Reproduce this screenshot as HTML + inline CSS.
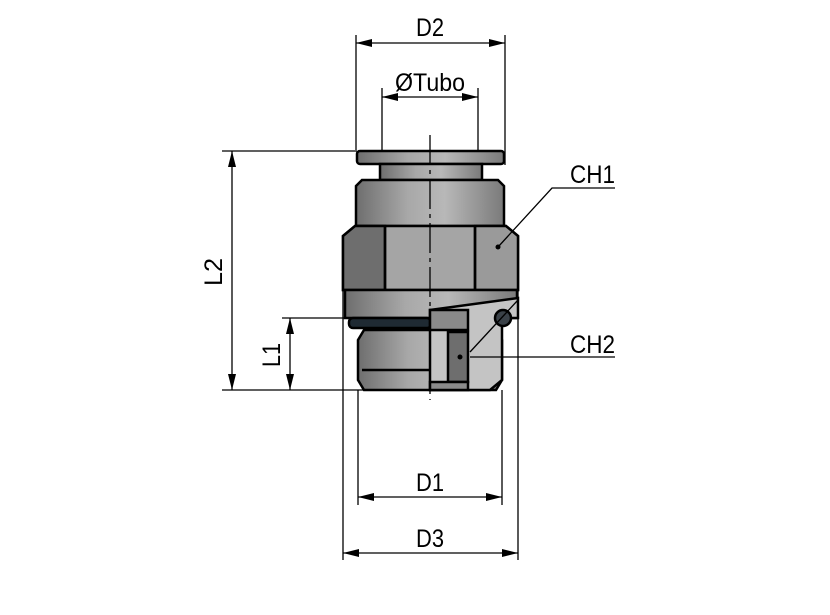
<!DOCTYPE html>
<html><head><meta charset="utf-8"><style>
html,body{margin:0;padding:0;background:#fff;}
svg{display:block;}
text{font-family:"Liberation Sans",sans-serif;font-size:25px;fill:#000;}
</style></head><body>
<svg width="830" height="615" viewBox="0 0 830 615" xmlns="http://www.w3.org/2000/svg">
<defs>
<linearGradient id="g" x1="0" x2="1" y1="0" y2="0">
<stop offset="0" stop-color="#6e6e6e"/><stop offset="0.35" stop-color="#a8a8a8"/><stop offset="0.6" stop-color="#b8b8b8"/><stop offset="1" stop-color="#7a7a7a"/>
</linearGradient>
<marker id="a" markerWidth="16" markerHeight="8" refX="16" refY="4" orient="auto" markerUnits="userSpaceOnUse"><path d="M0,0 L16,4 L0,8 Z" fill="#000"/></marker>
<marker id="b" markerWidth="16" markerHeight="8" refX="0" refY="4" orient="auto" markerUnits="userSpaceOnUse"><path d="M16,0 L0,4 L16,8 Z" fill="#000"/></marker>
</defs>
<g stroke="#000" stroke-width="2.5">
<rect x="357" y="151" width="147" height="13" rx="3" fill="url(#g)"/>
<rect x="380" y="164" width="102" height="16" fill="url(#g)"/>
<path d="M356,186 L362,180 L498,180 L504,186 L504,226 L356,226 Z" fill="url(#g)"/>
<path d="M343,236 L355,226 L506,226 L518,236 L518,290 L343,290 Z" fill="#a5a5a5"/>
<path d="M343,236 L355,226 L385,226 L385,290 L343,290 Z" fill="#6e6e6e"/>
<path d="M475,226 L506,226 L518,236 L518,290 L475,290 Z" fill="#9a9a9a"/>
<line x1="385" y1="226" x2="385" y2="290"/><line x1="475" y1="226" x2="475" y2="290"/>
<rect x="345" y="290" width="172" height="28" fill="url(#g)"/>
<rect x="349" y="318" width="82" height="10" rx="4" fill="#1f2a33"/>
<path d="M358,340 L364,330 L496,330 L502,340 L502,380 L496,390 L364,390 L358,380 Z" fill="url(#g)"/>
<line x1="362" y1="370" x2="430" y2="370"/>
<path d="M430,310 L518,298 L518,318 L502,318 L502,380 L490,390 L430,390 Z" fill="#c4c4c4"/>
<rect x="430" y="310" width="38" height="20" fill="#8a8a8a"/>
<rect x="448" y="332" width="20" height="50" fill="#6e6e6e"/>
<rect x="430" y="382" width="38" height="8" fill="#8a8a8a"/>
<circle cx="503" cy="318" r="8" fill="#3a4148"/>
</g>
<g stroke="#000" stroke-width="1.3" fill="none">
<line x1="430" y1="135" x2="430" y2="400" stroke-dasharray="30,5,4,5"/>
<line x1="356" y1="35" x2="356" y2="150"/><line x1="505" y1="35" x2="505" y2="165"/>
<line x1="382" y1="88" x2="382" y2="150"/><line x1="478" y1="88" x2="478" y2="150"/>
<line x1="222" y1="151" x2="357" y2="151"/><line x1="222" y1="390" x2="365" y2="390"/>
<line x1="282" y1="318" x2="349" y2="318"/>
<line x1="358" y1="390" x2="358" y2="505"/><line x1="502" y1="390" x2="502" y2="505"/>
<line x1="343" y1="290" x2="343" y2="560"/><line x1="518" y1="290" x2="518" y2="560"/>
<line x1="356" y1="43" x2="505" y2="43" marker-start="url(#b)" marker-end="url(#a)"/>
<line x1="382" y1="97" x2="478" y2="97" marker-start="url(#b)" marker-end="url(#a)"/>
<line x1="232" y1="151" x2="232" y2="390" marker-start="url(#b)" marker-end="url(#a)"/>
<line x1="290" y1="318" x2="290" y2="390" marker-start="url(#b)" marker-end="url(#a)"/>
<line x1="358" y1="497" x2="502" y2="497" marker-start="url(#b)" marker-end="url(#a)"/>
<line x1="343" y1="553" x2="518" y2="553" marker-start="url(#b)" marker-end="url(#a)"/>
<polyline points="498,247 552,188 615,188"/>
<polyline points="470,357 615,357"/>
<line x1="470" y1="352" x2="518" y2="300"/>
</g>
<circle cx="498" cy="247" r="2.5" fill="#000"/>
<circle cx="460" cy="357" r="2.5" fill="#000"/>
<text x="416" y="36" textLength="28" lengthAdjust="spacingAndGlyphs">D2</text>
<text x="395" y="91" textLength="70" lengthAdjust="spacingAndGlyphs">ØTubo</text>
<text x="416" y="491" textLength="28" lengthAdjust="spacingAndGlyphs">D1</text>
<text x="416" y="547" textLength="28" lengthAdjust="spacingAndGlyphs">D3</text>
<text x="570" y="183" textLength="45" lengthAdjust="spacingAndGlyphs">CH1</text>
<text x="570" y="353" textLength="45" lengthAdjust="spacingAndGlyphs">CH2</text>
<text transform="translate(222,272) rotate(-90)" x="-14" textLength="28" lengthAdjust="spacingAndGlyphs">L2</text>
<text transform="translate(280,355) rotate(-90)" x="-12" textLength="24" lengthAdjust="spacingAndGlyphs">L1</text>
</svg>
</body></html>
